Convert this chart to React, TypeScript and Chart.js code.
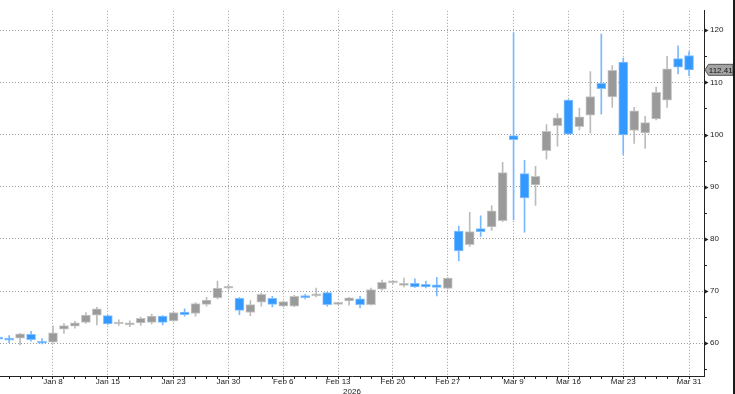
import React, { useEffect, useRef } from 'react';
import { Chart, registerables } from 'chart.js';

Chart.register(...registerables);

// Trading days (categories)
const dates = [
  'Jan 1', 'Jan 2', 'Jan 5', 'Jan 6', 'Jan 7', 'Jan 8', 'Jan 9', 'Jan 12', 'Jan 13', 'Jan 14',
  'Jan 15', 'Jan 16', 'Jan 19', 'Jan 20', 'Jan 21', 'Jan 22', 'Jan 23', 'Jan 26', 'Jan 27', 'Jan 28',
  'Jan 29', 'Jan 30', 'Feb 2', 'Feb 3', 'Feb 4', 'Feb 5', 'Feb 6', 'Feb 9', 'Feb 10', 'Feb 11',
  'Feb 12', 'Feb 13', 'Feb 16', 'Feb 17', 'Feb 18', 'Feb 19', 'Feb 20', 'Feb 23', 'Feb 24', 'Feb 25',
  'Feb 26', 'Feb 27', 'Mar 2', 'Mar 3', 'Mar 4', 'Mar 5', 'Mar 6', 'Mar 9', 'Mar 10', 'Mar 11',
  'Mar 12', 'Mar 13', 'Mar 16', 'Mar 17', 'Mar 18', 'Mar 19', 'Mar 20', 'Mar 23', 'Mar 24', 'Mar 25',
  'Mar 26', 'Mar 27', 'Mar 30', 'Mar 31',
];

const opens = [
  61.2, 60.8, 61.0, 61.7, 60.1, 60.2, 62.7, 63.3, 64.0, 65.4,
  65.3, 63.7, 63.5, 63.9, 64.0, 65.2, 64.3, 66.0, 65.7, 67.45,
  68.7, 70.55, 68.6, 65.9, 67.9, 68.6, 67.1, 67.1, 69.1, 69.1,
  69.7, 67.45, 68.1, 68.5, 67.4, 70.35, 71.6, 71.1, 71.5, 71.3,
  71.2, 70.5, 81.5, 78.9, 82.0, 82.3, 83.5, 99.8, 92.5, 90.35,
  96.9, 101.7, 106.6, 101.5, 103.7, 109.8, 107.2, 113.9, 100.8, 100.3,
  103.0, 106.6, 114.55, 115.15,
];

const highs = [
  61.3, 61.5, 61.9, 62.3, 60.9, 63.3, 63.8, 64.2, 65.9, 66.9,
  65.4, 64.5, 64.3, 65.0, 65.6, 65.3, 66.0, 66.6, 67.8, 68.8,
  71.9, 71.2, 68.8, 68.2, 69.6, 69.0, 68.1, 69.2, 69.4, 70.6,
  69.8, 67.9, 68.8, 69.0, 70.6, 72.1, 72.0, 72.5, 72.35, 71.9,
  72.65, 72.6, 82.45, 85.1, 84.45, 86.4, 94.7, 119.5, 95.05, 93.9,
  101.9, 104.0, 106.7, 105.1, 112.05, 119.25, 113.2, 114.65, 105.2, 103.5,
  109.1, 115.0, 117.0, 115.9,
];

const lows = [
  60.7, 60.1, 59.7, 60.4, 59.9, 60.0, 61.9, 62.9, 63.8, 63.5,
  63.6, 63.4, 63.2, 63.4, 63.7, 63.5, 64.2, 65.2, 65.2, 67.1,
  68.5, 70.35, 65.5, 65.3, 67.1, 66.95, 67.0, 67.0, 68.5, 68.9,
  67.1, 67.35, 67.3, 66.8, 67.3, 70.2, 71.4, 70.8, 70.7, 70.6,
  69.1, 70.4, 75.8, 78.55, 80.5, 81.65, 83.3, 83.7, 81.3, 86.4,
  95.3, 97.8, 100.0, 100.9, 100.3, 103.9, 105.2, 96.2, 98.3, 97.35,
  102.8, 105.2, 111.6, 111.3,
];

const closes = [
  60.8, 60.6, 61.8, 60.7, 60.0, 62.0, 63.4, 63.9, 65.4, 66.6,
  63.7, 64.0, 63.9, 64.8, 65.2, 64.0, 65.9, 65.5, 67.6, 68.3,
  70.6, 70.65, 66.3, 67.4, 69.4, 67.45, 68.0, 69.0, 68.75, 69.4,
  67.4, 67.75, 68.7, 67.4, 70.3, 71.7, 71.8, 71.5, 70.8, 70.8,
  70.7, 72.5, 77.7, 81.4, 81.4, 85.4, 92.7, 99.0, 87.85, 92.0,
  100.6, 103.2, 100.1, 103.4, 107.3, 108.8, 112.3, 99.95, 104.55, 102.3,
  108.1, 112.6, 112.9, 112.41,
];

const xTickLabels = ['Jan 8', 'Jan 15', 'Jan 23', 'Jan 30', 'Feb 6', 'Feb 13', 'Feb 20', 'Feb 27', 'Mar 9', 'Mar 16', 'Mar 23', 'Mar 31'];
const yearLabel = '2026';
const yTicks = [55, 60, 65, 70, 75, 80, 85, 90, 95, 100, 105, 110, 115, 120];
const yMajorStep = 10;
const lastPrice = 112.41;

const FONT_FAMILY = '"Liberation Sans", Arial, sans-serif';
const FONT = `8px ${FONT_FAMILY}`;
const UP_FILL = '#9a9a9a';
const UP_EDGE = '#c6c6c6';
const UP_WICK = '#bcbcbc';
const DN_FILL = '#3399ff';
const DN_EDGE = '#85c1ff';
const DN_WICK = '#78b9ff';
const GRID = '#9c9c9c';
const AXIS = '#222222';
const TEXT = '#1a1a1a';

const decorPlugin = {
  id: 'decor',
  afterDraw(chart: any) {
    const { ctx } = chart;
    const x = chart.scales.x;
    const y = chart.scales.y;
    const area = chart.chartArea;
    ctx.save();

    // y-axis tick marks (arrowheads at majors, short marks at minors)
    ctx.fillStyle = AXIS;
    ctx.strokeStyle = AXIS;
    ctx.lineWidth = 1;
    yTicks.forEach((v) => {
      const py = Math.round(y.getPixelForValue(v)) + 0.5;
      const ax = area.right;
      if (v % yMajorStep === 0) {
        ctx.beginPath();
        ctx.moveTo(ax, py - 2.5);
        ctx.lineTo(ax + 4.5, py);
        ctx.lineTo(ax, py + 2.5);
        ctx.closePath();
        ctx.fill();
      } else {
        ctx.beginPath();
        ctx.moveTo(ax, py);
        ctx.lineTo(ax + 3, py);
        ctx.stroke();
      }
    });

    // x-axis labels
    ctx.font = FONT;
    ctx.fillStyle = TEXT;
    ctx.textAlign = 'center';
    ctx.textBaseline = 'middle';
    dates.forEach((d, i) => {
      if (xTickLabels.includes(d)) {
        ctx.fillText(d, x.getPixelForValue(i), area.bottom + 6);
      }
    });
    ctx.fillText(yearLabel, (area.left + area.right) / 2, area.bottom + 15.5);

    // last price tag
    const py = y.getPixelForValue(lastPrice);
    const tip = area.right + 1;
    ctx.beginPath();
    ctx.moveTo(tip, py);
    ctx.lineTo(tip + 3.5, py - 5.5);
    ctx.lineTo(733, py - 5.5);
    ctx.lineTo(733, py + 5.5);
    ctx.lineTo(tip + 3.5, py + 5.5);
    ctx.closePath();
    ctx.fillStyle = '#a3a3a3';
    ctx.fill();
    ctx.strokeStyle = '#555';
    ctx.stroke();
    ctx.fillStyle = '#111';
    ctx.textAlign = 'center';
    ctx.font = FONT;
    ctx.fillText(lastPrice.toFixed(2), (tip + 3.5 + 733) / 2, py + 0.5);

    // right frame
    ctx.fillStyle = '#1a1a1a';
    ctx.fillRect(733, 0, 2, chart.height);
    ctx.restore();
  },
};

export default function App() {
  const ref = useRef<HTMLCanvasElement | null>(null);

  useEffect(() => {
    if (!ref.current) return;
    const idx = dates.map((_, i) => i);
    const up = (i: number) => closes[i] >= opens[i];
    const chart = new Chart(ref.current, {
      type: 'bar',
      data: {
        datasets: [
          {
            label: 'body',
            data: idx.map((i) => ({ x: i, y: [opens[i], closes[i]] })) as any,
            backgroundColor: idx.map((i) => (up(i) ? UP_FILL : DN_FILL)),
            borderColor: idx.map((i) => (up(i) ? UP_EDGE : DN_EDGE)),
            borderWidth: 1,
            borderSkipped: false,
            barThickness: 9,
            minBarLength: 2,
            grouped: false,
            order: 0,
          } as any,
          {
            label: 'wick',
            data: idx.map((i) => ({ x: i, y: [lows[i], highs[i]] })) as any,
            backgroundColor: idx.map((i) => (up(i) ? UP_WICK : DN_WICK)),
            borderWidth: 0,
            barThickness: 1,
            grouped: false,
            order: 1,
          } as any,
        ],
      },
      options: {
        animation: false,
        responsive: false,
        devicePixelRatio: 1,
        layout: { padding: 0 },
        plugins: { legend: { display: false }, tooltip: { enabled: false } },
        scales: {
          x: {
            type: 'linear',
            min: 0.167,
            max: 64.365,
            offset: false,
            afterBuildTicks: (s: any) => {
              s.ticks = dates.map((_, i) => ({ value: i })).filter((t) => t.value >= 1);
            },
            afterFit: (s: any) => {
              s.height = 18;
            },
            ticks: { display: false, autoSkip: false },
            grid: {
              offset: false,
              drawTicks: true,
              tickLength: 3,
              tickColor: AXIS,
              color: (c: any) =>
                c.tick && xTickLabels.includes(dates[c.tick.value]) ? GRID : 'rgba(0,0,0,0)',
              lineWidth: 1,
            },
            border: { display: true, color: AXIS, width: 1, dash: [1, 2] },
          },
          y: {
            position: 'right',
            min: 53.73,
            max: 123.72,
            afterBuildTicks: (s: any) => {
              s.ticks = yTicks.map((v) => ({ value: v }));
            },
            afterFit: (s: any) => {
              s.width = 31;
            },
            ticks: {
              padding: 6,
              color: TEXT,
              font: { family: FONT_FAMILY, size: 8 },
              callback: (v: any) => (Number(v) % yMajorStep === 0 ? String(v) : ''),
            },
            grid: {
              drawTicks: false,
              color: (c: any) => (c.tick && c.tick.value % yMajorStep === 0 ? GRID : 'rgba(0,0,0,0)'),
              lineWidth: 1,
            },
            border: { display: true, color: AXIS, width: 1, dash: [1, 2] },
          },
        },
      },
      plugins: [decorPlugin],
    } as any);
    return () => chart.destroy();
  }, []);

  return (
    <div style={{ position: 'fixed', left: 0, top: 0, width: 735, height: 394, background: '#fff' }}>
      <canvas ref={ref} width={735} height={394} style={{ display: 'block', width: 735, height: 394 }} />
    </div>
  );
}
